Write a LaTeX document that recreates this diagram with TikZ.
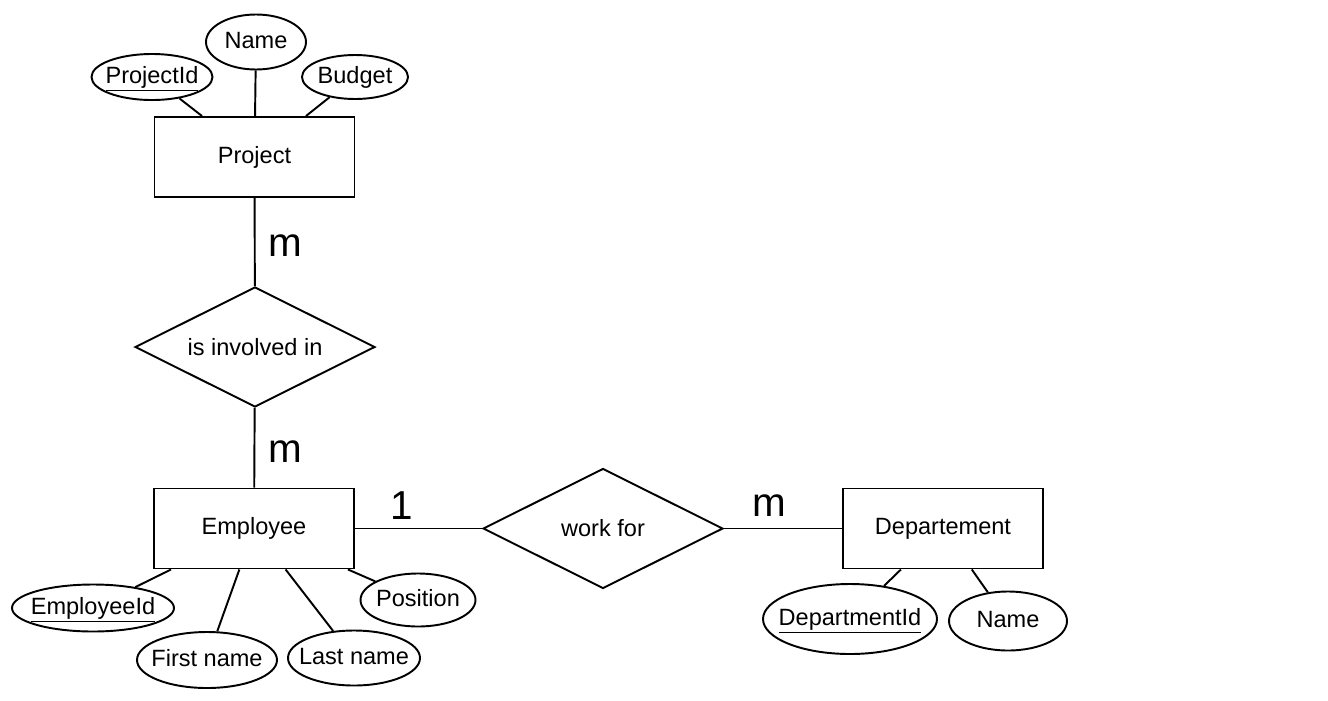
\documentclass[tikz,border=0pt]{standalone}
\usepackage{fontspec}
\setmainfont{Liberation Sans}
\usetikzlibrary{shapes.geometric}

\tikzset{
  entity/.style={draw, rectangle, minimum width=4cm, minimum height=1.6cm, inner sep=0pt},
  rel/.style={draw, diamond, aspect=2, minimum width=4.8cm, minimum height=2.4cm, inner sep=0pt},
  attr/.style 2 args={draw, ellipse, inner sep=0pt, text height=0.72em, text depth=0pt,
    minimum width=#1*0.02cm, minimum height=#2*0.02cm},
  card/.style={inner sep=0pt, font=\fontsize{23}{23}\selectfont},
}

\begin{document}
\begin{tikzpicture}[x=0.02cm, y=-0.02cm, line width=1.1pt, font=\fontsize{13.4}{16}\selectfont]
  \useasboundingbox (0,0) rectangle (1328,700);
  % 实体
  \node[entity] (proj) at (254.5,157) {Project};
  \node[entity] (emp) at (254,528.5) {Employee};
  \node[entity] (dept) at (943,528.5) {Departement};
  % 联系
  \node[rel] (inv) at (255,347) {is involved in};
  \node[rel] (work) at (603,528.5) {work for};
  % 属性（椭圆）
  \foreach \nm/\x/\y/\w/\h/\txt in {
      pid/152/77/121/46/{\underline{ProjectId}},
      pname/256/42/100/55/{Name},
      budget/355/77/106/44/{Budget},
      eid/93/608/162/47/{\underline{EmployeeId}},
      fname/207/660/140/56/{First name},
      lname/354/658/132/55/{Last name},
      pos/418/600/115/53/{Position},
      did/850/619/174/70/{\underline{DepartmentId}},
      dname/1008/621/118/59/{Name}} {
    \node[attr={\w}{\h}] (\nm) at (\x,\y) {\makebox[0pt]{\txt}};
  }
  % 连线：实体 -- 属性
  \foreach \a/\b in {proj/pid, proj/pname, proj/budget,
      emp/eid, emp/fname, emp/lname, emp/pos, dept/did, dept/dname} {
    \draw (\a) -- (\b);
  }
  % 连线：实体 -- 联系
  \draw (proj) -- (inv);
  \draw (inv) -- (emp);
  \draw (emp) -- (work);
  \draw (work) -- (dept);
  % 基数
  \node[card] (c1) at (285,246) {m};
  \node[card] (c2) at (285,452) {m};
  \node[card] (c3) at (402,506) {1};
  \node[card] (c4) at (769,506) {m};
\end{tikzpicture}
\end{document}
